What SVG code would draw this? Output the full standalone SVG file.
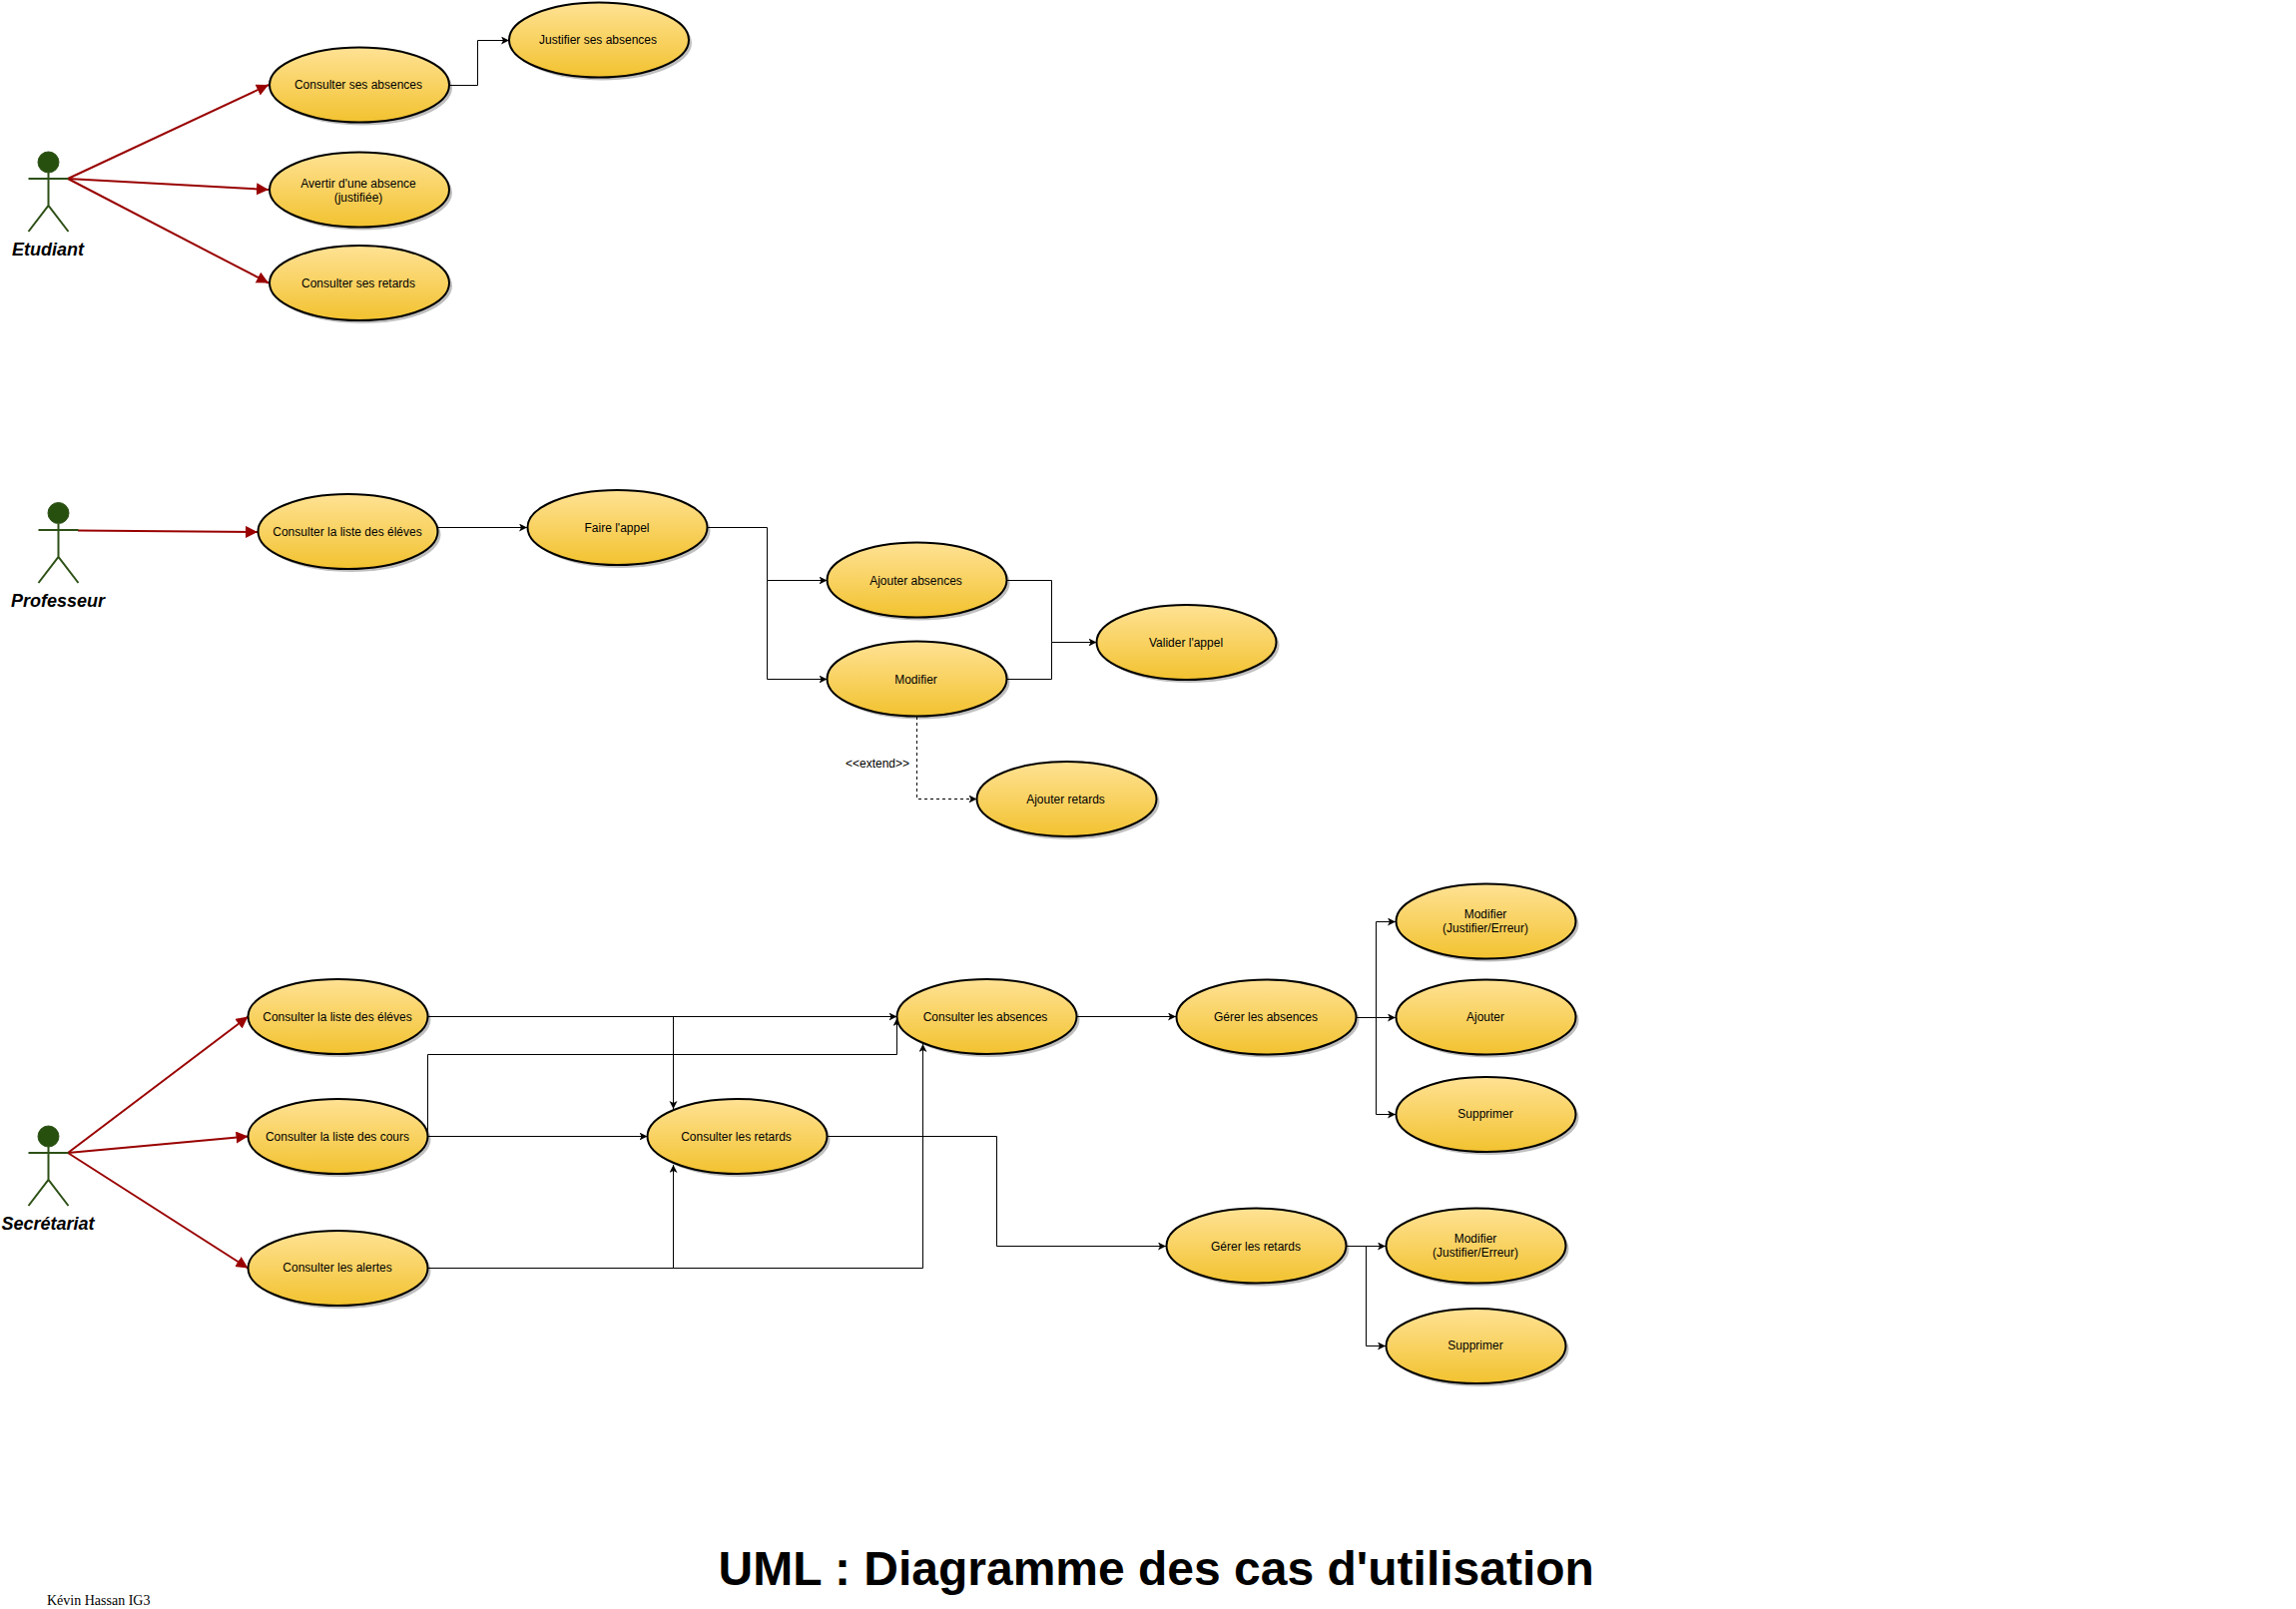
<svg xmlns="http://www.w3.org/2000/svg" width="2300" height="1612" viewBox="0 0 2300 1612">
<style>
text{font-family:"Liberation Sans",Arial,sans-serif;fill:#000}
.uc{fill:url(#g);stroke:#000;stroke-width:2}
.sh{fill:#000;opacity:.25}
.uct{font-size:12px;text-anchor:middle}
.a{fill:none;stroke:#2d5016;stroke-width:2}
.h{fill:#27500f;stroke:#2d5016;stroke-width:1}
.an{font-size:18px;font-weight:bold;font-style:italic;text-anchor:middle}
.c{fill:none;stroke:#000;stroke-width:1}
.ca{marker-end:url(#k)}
.r{fill:none;stroke:#990000;stroke-width:2;marker-end:url(#rk)}
</style>
<defs>
<linearGradient id="g" x1="0" y1="0" x2="0" y2="1"><stop offset="0" stop-color="#ffe294"/><stop offset="1" stop-color="#f2c22f"/></linearGradient>
<marker id="k" markerUnits="userSpaceOnUse" markerWidth="10" markerHeight="10" refX="8" refY="4" orient="auto"><path d="M0 0L8 4L0 8L2 4Z" fill="#000"/></marker>
<marker id="rk" markerUnits="userSpaceOnUse" markerWidth="14" markerHeight="14" refX="12" refY="6" orient="auto"><path d="M0 0L12 6L0 12Z" fill="#990000"/></marker>
</defs>
<rect width="2300" height="1612" fill="#fff"/>

<g id="connectors">
<path class="r" d="M68 179L269 85"/>
<path class="r" d="M68 179L269 190"/>
<path class="r" d="M68 179L269 283.5"/>
<path class="r" d="M78 531.5L258 533"/>
<path class="r" d="M68 1155L248.5 1018.5"/>
<path class="r" d="M68 1155L248.5 1138.5"/>
<path class="r" d="M68 1155L248.5 1270.5"/>
<path class="c ca" d="M450 85.5H478.5V40.5H510"/>
<path class="c ca" d="M439 528.5H528"/>
<path class="c ca" d="M709 528.5H768.5V581.5H828.5"/>
<path class="c ca" d="M768.5 581.5V680.5H828.5"/>
<path class="c ca" d="M1008.5 581.5H1053.5V643.5H1098.5"/>
<path class="c" d="M1008.5 680.5H1053.5V643.5"/>
<path class="c ca" d="M918.5 718V800.5H978.5" stroke-dasharray="3 3"/>
<path class="c ca" d="M428 1018.5H898.5"/>
<path class="c ca" d="M674.5 1018.5V1111"/>
<path class="c ca" d="M428 1138.5H648.5"/>
<path class="c ca" d="M428.5 1138V1056.5H898.5V1020"/>
<path class="c ca" d="M428 1270.5H924.5V1046"/>
<path class="c ca" d="M674.5 1270.5V1167"/>
<path class="c ca" d="M828 1138.5H998.5V1248.5H1168"/>
<path class="c ca" d="M1078 1018.5H1178"/>
<path class="c ca" d="M1359 1019.5H1378.5V923.5H1398"/>
<path class="c ca" d="M1378.5 1019.5H1398"/>
<path class="c ca" d="M1378.5 1019.5V1116.5H1398"/>
<path class="c ca" d="M1349 1248.5H1388"/>
<path class="c ca" d="M1368.5 1248.5V1348.5H1388"/>
</g>

<g id="actor-etudiant">
<ellipse class="h" cx="48.5" cy="162.5" rx="10.5" ry="10.5"/>
<path class="a" d="M48.5 173V206M28.5 179H68.5M28.5 232L48.5 206L68.5 232"/>
<text class="an" x="48" y="256">Etudiant</text>
</g>
<g id="actor-professeur">
<ellipse class="h" cx="58.5" cy="514" rx="10.5" ry="10.5"/>
<path class="a" d="M58.5 525V558M38.5 531H78.5M38.5 584L58.5 558L78.5 584"/>
<text class="an" x="58" y="608">Professeur</text>
</g>
<g id="actor-secretariat">
<ellipse class="h" cx="48.5" cy="1138.5" rx="10.5" ry="10.5"/>
<path class="a" d="M48.5 1149V1182M28.5 1155H68.5M28.5 1208L48.5 1182L68.5 1208"/>
<text class="an" x="48" y="1232">Secrétariat</text>
</g>

<g id="uc-consulter-ses-absences"><ellipse class="sh" cx="363" cy="88" rx="90" ry="37.5"/><ellipse class="uc" cx="360" cy="85" rx="90" ry="37.5"/><text class="uct" x="359" y="89">Consulter ses absences</text></g>
<g id="uc-justifier"><ellipse class="sh" cx="603" cy="43" rx="90" ry="37.5"/><ellipse class="uc" cx="600" cy="40" rx="90" ry="37.5"/><text class="uct" x="599" y="44">Justifier ses absences</text></g>
<g id="uc-avertir"><ellipse class="sh" cx="363" cy="193" rx="90" ry="37.5"/><ellipse class="uc" cx="360" cy="190" rx="90" ry="37.5"/><text class="uct" x="359" y="188">Avertir d'une absence</text><text class="uct" x="359" y="202">(justifiée)</text></g>
<g id="uc-consulter-ses-retards"><ellipse class="sh" cx="363" cy="286.5" rx="90" ry="37.5"/><ellipse class="uc" cx="360" cy="283.5" rx="90" ry="37.5"/><text class="uct" x="359" y="288">Consulter ses retards</text></g>

<g id="uc-prof-liste"><ellipse class="sh" cx="351.5" cy="535.5" rx="90" ry="37.5"/><ellipse class="uc" cx="348.5" cy="532.5" rx="90" ry="37.5"/><text class="uct" x="348" y="537">Consulter la liste des éléves</text></g>
<g id="uc-faire-appel"><ellipse class="sh" cx="621.5" cy="531.5" rx="90" ry="37.5"/><ellipse class="uc" cx="618.5" cy="528.5" rx="90" ry="37.5"/><text class="uct" x="618" y="533">Faire l'appel</text></g>
<g id="uc-ajouter-absences"><ellipse class="sh" cx="921.5" cy="584" rx="90" ry="37.5"/><ellipse class="uc" cx="918.5" cy="581" rx="90" ry="37.5"/><text class="uct" x="917.5" y="586">Ajouter absences</text></g>
<g id="uc-modifier"><ellipse class="sh" cx="921.5" cy="683" rx="90" ry="37.5"/><ellipse class="uc" cx="918.5" cy="680" rx="90" ry="37.5"/><text class="uct" x="917.5" y="685">Modifier</text></g>
<g id="uc-valider"><ellipse class="sh" cx="1191.5" cy="646.5" rx="90" ry="37.5"/><ellipse class="uc" cx="1188.5" cy="643.5" rx="90" ry="37.5"/><text class="uct" x="1188" y="648">Valider l'appel</text></g>
<g id="uc-ajouter-retards"><ellipse class="sh" cx="1071.5" cy="803.5" rx="90" ry="37.5"/><ellipse class="uc" cx="1068.5" cy="800.5" rx="90" ry="37.5"/><text class="uct" x="1067.5" y="805">Ajouter retards</text></g>
<g id="label-extend"><text x="847" y="769" style="font-size:12px">&lt;&lt;extend&gt;&gt;</text></g>

<g id="uc-sec-liste-eleves"><ellipse class="sh" cx="341.5" cy="1021.5" rx="90" ry="37.5"/><ellipse class="uc" cx="338.5" cy="1018.5" rx="90" ry="37.5"/><text class="uct" x="338" y="1023">Consulter la liste des éléves</text></g>
<g id="uc-sec-liste-cours"><ellipse class="sh" cx="341.5" cy="1141.5" rx="90" ry="37.5"/><ellipse class="uc" cx="338.5" cy="1138.5" rx="90" ry="37.5"/><text class="uct" x="338" y="1143">Consulter la liste des cours</text></g>
<g id="uc-sec-alertes"><ellipse class="sh" cx="341.5" cy="1273.5" rx="90" ry="37.5"/><ellipse class="uc" cx="338.5" cy="1270.5" rx="90" ry="37.5"/><text class="uct" x="338" y="1274">Consulter les alertes</text></g>
<g id="uc-sec-absences"><ellipse class="sh" cx="991.5" cy="1021.5" rx="90" ry="37.5"/><ellipse class="uc" cx="988.5" cy="1018.5" rx="90" ry="37.5"/><text class="uct" x="987" y="1023">Consulter les absences</text></g>
<g id="uc-sec-retards"><ellipse class="sh" cx="741.5" cy="1141.5" rx="90" ry="37.5"/><ellipse class="uc" cx="738.5" cy="1138.5" rx="90" ry="37.5"/><text class="uct" x="737.5" y="1143">Consulter les retards</text></g>
<g id="uc-gerer-absences"><ellipse class="sh" cx="1271.5" cy="1022" rx="90" ry="37.5"/><ellipse class="uc" cx="1268.5" cy="1019" rx="90" ry="37.5"/><text class="uct" x="1268" y="1023">Gérer les absences</text></g>
<g id="uc-abs-modifier"><ellipse class="sh" cx="1491.5" cy="926" rx="90" ry="37.5"/><ellipse class="uc" cx="1488.5" cy="923" rx="90" ry="37.5"/><text class="uct" x="1488" y="919.5">Modifier</text><text class="uct" x="1488" y="934">(Justifier/Erreur)</text></g>
<g id="uc-abs-ajouter"><ellipse class="sh" cx="1491.5" cy="1022" rx="90" ry="37.5"/><ellipse class="uc" cx="1488.5" cy="1019" rx="90" ry="37.5"/><text class="uct" x="1488" y="1023">Ajouter</text></g>
<g id="uc-abs-supprimer"><ellipse class="sh" cx="1491.5" cy="1119.5" rx="90" ry="37.5"/><ellipse class="uc" cx="1488.5" cy="1116.5" rx="90" ry="37.5"/><text class="uct" x="1488" y="1120">Supprimer</text></g>
<g id="uc-gerer-retards"><ellipse class="sh" cx="1261.5" cy="1251" rx="90" ry="37.5"/><ellipse class="uc" cx="1258.5" cy="1248" rx="90" ry="37.5"/><text class="uct" x="1258" y="1253">Gérer les retards</text></g>
<g id="uc-ret-modifier"><ellipse class="sh" cx="1481.5" cy="1251" rx="90" ry="37.5"/><ellipse class="uc" cx="1478.5" cy="1248" rx="90" ry="37.5"/><text class="uct" x="1478" y="1245">Modifier</text><text class="uct" x="1478" y="1259">(Justifier/Erreur)</text></g>
<g id="uc-ret-supprimer"><ellipse class="sh" cx="1481.5" cy="1351.5" rx="90" ry="37.5"/><ellipse class="uc" cx="1478.5" cy="1348.5" rx="90" ry="37.5"/><text class="uct" x="1478" y="1352">Supprimer</text></g>

<text id="title" x="719.5" y="1588" style="font-size:48px;font-weight:bold">UML : Diagramme des cas d'utilisation</text>
<text id="author" x="47" y="1608" style="font-family:'Liberation Serif',serif;font-size:14px">Kévin Hassan IG3</text>
</svg>
